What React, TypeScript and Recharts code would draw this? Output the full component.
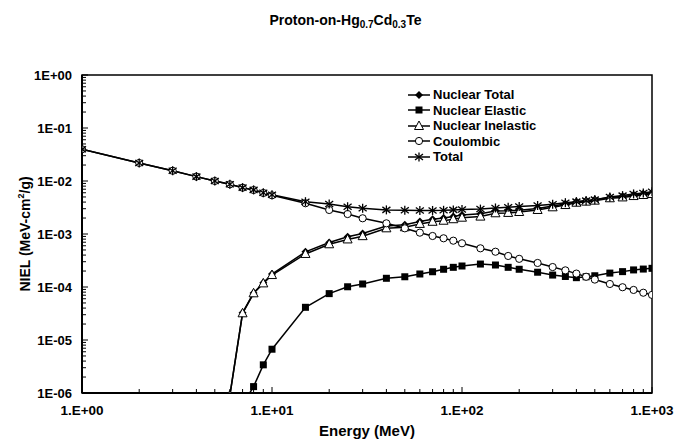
import React from "react";
import { Line, LineChart, ReferenceArea, XAxis, YAxis } from "recharts";

// proton energies (MeV)
const energy = [
  1, 2, 3, 4, 5, 6, 7, 8, 9, 10, 15, 20, 25, 30, 40, 50, 60, 70, 80, 90, 100, 125, 150, 175, 200, 250, 300,
  350, 400, 450, 500, 600, 700, 800, 900, 1000,
];

// NIEL values (MeV-cm2/g)
const nuclearTotal = [
  null, null, null, null, null, 9e-7, 3.25e-5, 7.7e-5, 1.2e-4, 1.75e-4, 4.6e-4, 6.9e-4, 8.9e-4, 1.02e-3, 1.42e-3,
  1.5e-3, 1.72e-3, 1.9e-3, 2.0e-3, 2.13e-3, 2.28e-3, 2.4e-3, 2.72e-3, 2.74e-3, 2.82e-3, 3.03e-3, 3.36e-3,
  3.68e-3, 4.04e-3, 4.24e-3, 4.42e-3, 4.9e-3, 5.1e-3, 5.41e-3, 5.66e-3, 5.92e-3,
];
const nuclearElastic = [
  null, null, null, null, null, null, 6e-7, 1.32e-6, 3.4e-6, 6.7e-6, 4.14e-5, 7.5e-5, 1.01e-4, 1.14e-4, 1.46e-4,
  1.56e-4, 1.76e-4, 1.94e-4, 2.16e-4, 2.35e-4, 2.49e-4, 2.71e-4, 2.6e-4, 2.35e-4, 2.16e-4, 1.9e-4, 1.68e-4,
  1.58e-4, 1.5e-4, 1.56e-4, 1.63e-4, 1.83e-4, 1.95e-4, 2.1e-4, 2.18e-4, 2.25e-4,
];
const nuclearInelastic = [
  null, null, null, null, null, 9e-7, 3.19e-5, 7.6e-5, 1.17e-4, 1.68e-4, 4.2e-4, 6.4e-4, 7.9e-4, 9.1e-4, 1.28e-3,
  1.34e-3, 1.55e-3, 1.7e-3, 1.78e-3, 1.9e-3, 2.03e-3, 2.13e-3, 2.46e-3, 2.5e-3, 2.6e-3, 2.84e-3, 3.19e-3,
  3.52e-3, 3.89e-3, 4.08e-3, 4.26e-3, 4.72e-3, 4.9e-3, 5.2e-3, 5.44e-3, 5.69e-3,
];
const coulombic = [
  3.96e-2, 2.19e-2, 1.56e-2, 1.21e-2, 1.0e-2, 8.65e-3, 7.48e-3, 6.76e-3, 5.94e-3, 5.37e-3, 3.8e-3, 2.84e-3,
  2.38e-3, 1.98e-3, 1.59e-3, 1.28e-3, 1.06e-3, 9.17e-4, 8.3e-4, 7.48e-4, 6.68e-4, 5.37e-4, 4.63e-4, 3.85e-4,
  3.4e-4, 2.84e-4, 2.38e-4, 2.06e-4, 1.79e-4, 1.56e-4, 1.38e-4, 1.14e-4, 9.9e-5, 8.8e-5, 7.8e-5, 7.1e-5,
];
const total = [
  3.96e-2, 2.19e-2, 1.56e-2, 1.21e-2, 1.0e-2, 8.65e-3, 7.5e-3, 6.8e-3, 6.0e-3, 5.5e-3, 4.07e-3, 3.68e-3, 3.27e-3,
  3.05e-3, 2.85e-3, 2.8e-3, 2.78e-3, 2.78e-3, 2.8e-3, 2.85e-3, 2.9e-3, 2.95e-3, 3.1e-3, 3.2e-3, 3.3e-3, 3.45e-3,
  3.65e-3, 3.9e-3, 4.08e-3, 4.26e-3, 4.45e-3, 5.0e-3, 5.3e-3, 5.7e-3, 5.95e-3, 6.28e-3,
];

const xMajorTicks = [1, 10, 100, 1000];
const xTickLabels = ["1.E+00", "1.E+01", "1.E+02", "1.E+03"];
const yMajorTicks = [1e-6, 1e-5, 1e-4, 1e-3, 1e-2, 1e-1, 1];
const yTickLabels = ["1E-06", "1E-05", "1E-04", "1E-03", "1E-02", "1E-01", "1E+00"];

const series = [
  { key: "nuclearTotal", name: "Nuclear Total", shape: "diamond", values: nuclearTotal },
  { key: "nuclearElastic", name: "Nuclear Elastic", shape: "square", values: nuclearElastic },
  { key: "nuclearInelastic", name: "Nuclear Inelastic", shape: "triangle", values: nuclearInelastic },
  { key: "coulombic", name: "Coulombic", shape: "circle", values: coulombic },
  { key: "total", name: "Total", shape: "star", values: total },
];

const data = energy.map((e, i) => {
  const row: Record<string, number | null> = { energy: e };
  series.forEach((s) => (row[s.key] = s.values[i]));
  return row;
});

// minor tick positions, 1..9 x 10^k for each decade
const withMinor = (majors: number[]) => {
  const out: number[] = [];
  majors.forEach((m, i) => {
    if (i === majors.length - 1) out.push(m);
    else for (let k = 1; k < 10; k++) out.push(m * k);
  });
  return out;
};

const FONT = "'Liberation Sans', Arial, sans-serif";

function Marker({ shape, cx, cy }: { shape: string; cx: number; cy: number }) {
  switch (shape) {
    case "diamond":
      return <polygon points={`${cx},${cy - 4} ${cx + 4},${cy} ${cx},${cy + 4} ${cx - 4},${cy}`} fill="#000" />;
    case "square":
      return <rect x={cx - 3.5} y={cy - 3.5} width={7} height={7} fill="#000" />;
    case "triangle":
      return (
        <polygon
          points={`${cx},${cy - 5} ${cx + 4.5},${cy + 3.5} ${cx - 4.5},${cy + 3.5}`}
          fill="#fff"
          stroke="#000"
          strokeWidth={1}
        />
      );
    case "circle":
      return <circle cx={cx} cy={cy} r={3.6} fill="#fff" stroke="#000" strokeWidth={1} />;
    default:
      return (
        <g stroke="#000" strokeWidth={1.3}>
          <line x1={cx} y1={cy - 4.5} x2={cx} y2={cy + 4.5} />
          <line x1={cx - 4} y1={cy - 3} x2={cx + 4} y2={cy + 3} />
          <line x1={cx - 4} y1={cy + 3} x2={cx + 4} y2={cy - 3} />
        </g>
      );
  }
}

const renderDot = (shape: string, name: string) => (props: any) => {
  const { cx, cy, index } = props;
  if (cx == null || cy == null || Number.isNaN(cy)) return <g key={`${name}-${index}`} />;
  return (
    <g key={`${name}-${index}`}>
      <Marker shape={shape} cx={cx} cy={cy} />
    </g>
  );
};

const XTick = (props: any) => {
  const { x, y, payload } = props;
  const idx = xMajorTicks.indexOf(payload.value);
  return (
    <g>
      <line x1={x} x2={x} y1={y} y2={y - (idx >= 0 ? 6 : 4)} stroke="#000" strokeWidth={1} />
      {idx >= 0 && (
        <text x={x} y={y + 22} textAnchor="middle" fontFamily={FONT} fontWeight="bold" fontSize={13.5} fill="#000">
          {xTickLabels[idx]}
        </text>
      )}
    </g>
  );
};

const YTick = (props: any) => {
  const { x, y, payload } = props;
  const idx = yMajorTicks.findIndex((t) => Math.abs(t - payload.value) / t < 1e-9);
  return (
    <g>
      <line x1={x} x2={x + (idx >= 0 ? 6 : 4)} y1={y} y2={y} stroke="#000" strokeWidth={1} />
      {idx >= 0 && (
        <text x={x - 10} y={y + 4.5} textAnchor="end" fontFamily={FONT} fontWeight="bold" fontSize={13} fill="#000">
          {yTickLabels[idx]}
        </text>
      )}
    </g>
  );
};

function LegendBox() {
  return (
    <div
      style={{
        position: "absolute",
        left: 407,
        top: 87,
        fontFamily: FONT,
        fontWeight: "bold",
        fontSize: 13,
        lineHeight: "15.5px",
        color: "#000",
      }}
    >
      {series.map((s) => (
        <div key={s.key} style={{ display: "flex", alignItems: "center" }}>
          <svg width={24} height={12} style={{ marginRight: 2 }}>
            <line x1={1} x2={23} y1={6} y2={6} stroke="#000" strokeWidth={1.5} />
            <Marker shape={s.shape} cx={12} cy={6} />
          </svg>
          <span>{s.name}</span>
        </div>
      ))}
    </div>
  );
}

export default function App() {
  return (
    <div style={{ position: "absolute", left: 0, top: 0, width: 691, height: 442, background: "#fff" }}>
      <div
        style={{
          position: "absolute",
          top: 12,
          left: 0,
          width: 691,
          textAlign: "center",
          fontFamily: FONT,
          fontWeight: "bold",
          fontSize: 14,
        }}
      >
        Proton-on-Hg<sub style={{ fontSize: 10, verticalAlign: "-3px" }}>0.7</sub>Cd
        <sub style={{ fontSize: 10, verticalAlign: "-3px" }}>0.3</sub>Te
      </div>
      <LineChart width={691} height={442} data={data} margin={{ top: 75, right: 39, bottom: 0, left: 0 }}>
        <XAxis
          dataKey="energy"
          type="number"
          scale="log"
          domain={[1, 1000]}
          allowDataOverflow
          ticks={withMinor(xMajorTicks)}
          interval={0}
          tick={(p: any) => <XTick {...p} />}
          tickLine={false}
          tickSize={0}
          tickMargin={0}
          height={49}
          axisLine={{ stroke: "#000", strokeWidth: 2 }}
          label={{
            content: ({ viewBox }: any) => (
              <text
                x={viewBox.x + viewBox.width / 2}
                y={viewBox.y + 43}
                textAnchor="middle"
                fontFamily={FONT}
                fontWeight="bold"
                fontSize={15}
                fill="#000"
              >
                Energy (MeV)
              </text>
            ),
          }}
        />
        <YAxis
          type="number"
          scale="log"
          domain={[1e-6, 1]}
          allowDataOverflow
          ticks={withMinor(yMajorTicks)}
          interval={0}
          tick={(p: any) => <YTick {...p} />}
          tickLine={false}
          tickSize={0}
          tickMargin={0}
          width={82}
          axisLine={{ stroke: "#000", strokeWidth: 2 }}
          label={{
            content: ({ viewBox }: any) => {
              const cx = viewBox.x + 25;
              const cy = viewBox.y + viewBox.height / 2;
              return (
                <text
                  x={cx}
                  y={cy}
                  transform={`rotate(-90 ${cx} ${cy})`}
                  textAnchor="middle"
                  fontFamily={FONT}
                  fontWeight="bold"
                  fontSize={14}
                  fill="#000"
                  dy={5}
                >
                  NIEL (MeV-cm
                  <tspan fontSize={9} dy={-6}>
                    2
                  </tspan>
                  <tspan dy={6}>/g)</tspan>
                </text>
              );
            },
          }}
        />
        <ReferenceArea x1={1} x2={1000} y1={1e-6} y2={1} fill="none" stroke="#000" strokeWidth={1.5} />
        {series.map((s) => (
          <Line
            key={s.key}
            dataKey={s.key}
            name={s.name}
            type="linear"
            stroke="#000"
            strokeWidth={1.5}
            dot={renderDot(s.shape, s.key)}
            activeDot={false}
            isAnimationActive={false}
          />
        ))}
      </LineChart>
      <LegendBox />
    </div>
  );
}
